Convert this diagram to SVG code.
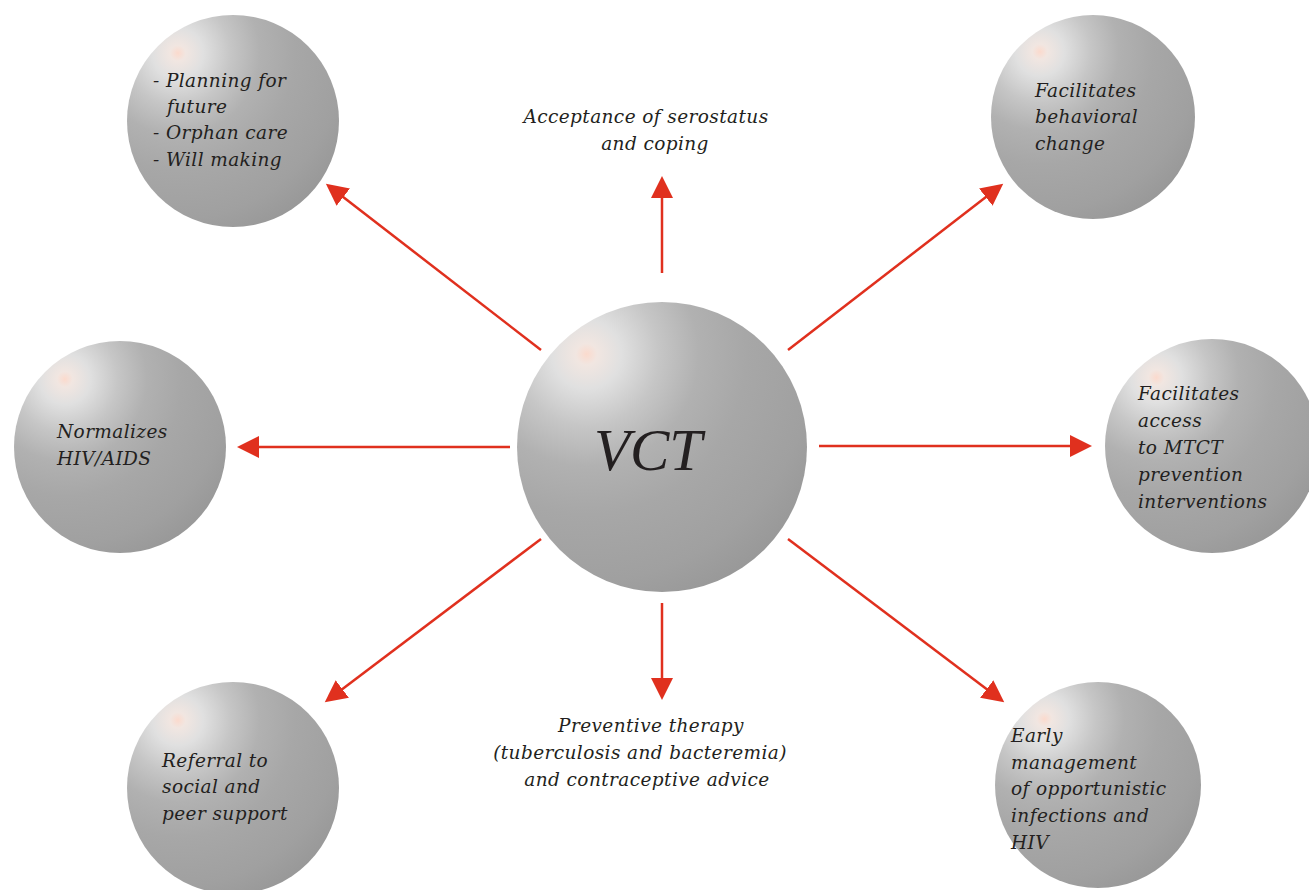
<svg xmlns="http://www.w3.org/2000/svg" width="1309" height="890" viewBox="0 0 1309 890">
<style>
.t{font-family:"DejaVu Serif","Liberation Serif",serif;font-style:italic;font-size:18.5px;letter-spacing:0.4px;fill:#231f20}
.v{font-family:"Liberation Serif","DejaVu Serif",serif;font-style:italic;font-size:59px;fill:#231f20}
.c{stroke:#e0301e;stroke-width:2.5;fill:none;marker-end:url(#ah)}
.s{fill:url(#sph)}
</style>
<defs>
<radialGradient id="sph" cx="0.24" cy="0.18" fx="0.24" fy="0.18" r="0.92">
<stop offset="0" stop-color="#fbdacd"/>
<stop offset="0.04" stop-color="#f1e6e1"/>
<stop offset="0.13" stop-color="#e0e0e0"/>
<stop offset="0.27" stop-color="#c6c6c6"/>
<stop offset="0.42" stop-color="#b1b1b1"/>
<stop offset="0.6" stop-color="#a7a7a7"/>
<stop offset="0.85" stop-color="#a0a0a0"/>
<stop offset="1" stop-color="#989898"/>
</radialGradient>
<marker id="ah" markerUnits="userSpaceOnUse" markerWidth="24" markerHeight="24" refX="1" refY="11" orient="auto" viewBox="0 0 24 22">
<path d="M0,0 L22,11 L0,22 Z" fill="#e0301e"/>
</marker>
</defs>
<rect width="1309" height="890" fill="#ffffff"/>
<g id="connectors">
<line class="c" x1="662" y1="273" x2="662" y2="197"/>
<line class="c" x1="662" y1="603" x2="662" y2="679"/>
<line class="c" x1="510" y1="447" x2="258" y2="447"/>
<line class="c" x1="819" y1="446" x2="1071" y2="446"/>
<line class="c" x1="541" y1="350" x2="342.5" y2="196.5"/>
<line class="c" x1="788" y1="350" x2="986.6" y2="196.5"/>
<line class="c" x1="541" y1="539" x2="341.5" y2="689.7"/>
<line class="c" x1="788" y1="539" x2="987.5" y2="689.7"/>
</g>
<g id="vct">
<circle class="s" cx="662" cy="447" r="145"/>
<text class="v" x="648" y="470" text-anchor="middle">VCT</text>
</g>
<g id="planning">
<circle class="s" cx="233" cy="121" r="106"/>
<text class="t" x="153" y="87">- Planning for</text>
<text class="t" x="167" y="113">future</text>
<text class="t" x="153" y="139">- Orphan care</text>
<text class="t" x="153" y="166">- Will making</text>
</g>
<g id="acceptance">
<text class="t" x="646" y="123" text-anchor="middle">Acceptance of serostatus</text>
<text class="t" x="655" y="150" text-anchor="middle">and coping</text>
</g>
<g id="behavioral">
<circle class="s" cx="1093" cy="117" r="102"/>
<text class="t" x="1035" y="97">Facilitates</text>
<text class="t" x="1035" y="123">behavioral</text>
<text class="t" x="1035" y="150">change</text>
</g>
<g id="normalizes">
<circle class="s" cx="120" cy="447" r="106"/>
<text class="t" x="57" y="438">Normalizes</text>
<text class="t" x="57" y="465">HIV/AIDS</text>
</g>
<g id="mtct">
<circle class="s" cx="1212" cy="446" r="107"/>
<text class="t" x="1138" y="400">Facilitates</text>
<text class="t" x="1138" y="427">access</text>
<text class="t" x="1138" y="454">to MTCT</text>
<text class="t" x="1138" y="481">prevention</text>
<text class="t" x="1138" y="508">interventions</text>
</g>
<g id="referral">
<circle class="s" cx="233" cy="788" r="106"/>
<text class="t" x="162" y="767">Referral to</text>
<text class="t" x="162" y="793">social and</text>
<text class="t" x="162" y="820">peer support</text>
</g>
<g id="preventive">
<text class="t" x="651" y="732" text-anchor="middle">Preventive therapy</text>
<text class="t" x="640" y="759" text-anchor="middle">(tuberculosis and bacteremia)</text>
<text class="t" x="647" y="786" text-anchor="middle">and contraceptive advice</text>
</g>
<g id="early">
<circle class="s" cx="1098" cy="785" r="103"/>
<text class="t" x="1011" y="742">Early</text>
<text class="t" x="1011" y="769">management</text>
<text class="t" x="1011" y="795">of opportunistic</text>
<text class="t" x="1011" y="822">infections and</text>
<text class="t" x="1011" y="849">HIV</text>
</g>
</svg>
